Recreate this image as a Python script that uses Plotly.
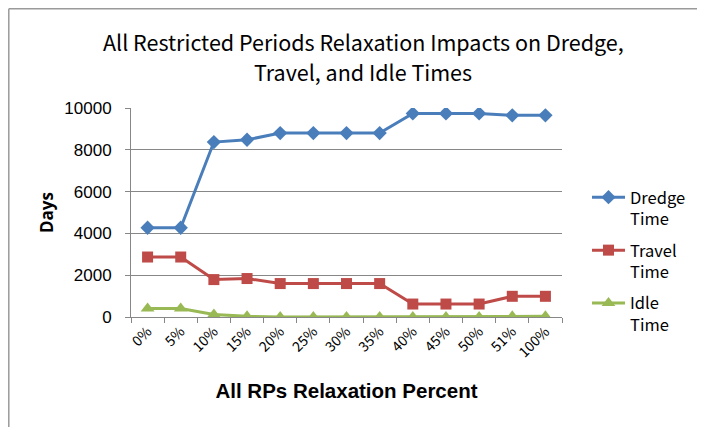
import plotly.graph_objects as go

categories = ["0%", "5%", "10%", "15%", "20%", "25%", "30%", "35%", "40%", "45%", "50%", "51%", "100%"]
dredge = [4270, 4270, 8370, 8480, 8800, 8800, 8800, 8800, 9740, 9740, 9740, 9650, 9650]
travel = [2870, 2870, 1790, 1840, 1600, 1600, 1600, 1600, 620, 620, 620, 990, 990]
idle = [410, 410, 120, 30, 0, 0, 0, 0, 0, 0, 0, 30, 30]
y_ticks = [0, 2000, 4000, 6000, 8000, 10000]
title_lines = ["All Restricted Periods Relaxation Impacts on Dredge,", "Travel, and Idle Times"]

series = [
    ("Dredge<br>Time", dredge, "#4A7EBB", "diamond", 11),
    ("Travel<br>Time", travel, "#BE4B48", "square", 11),
    ("Idle<br>Time", idle, "#98B954", "triangle-up", 12),
]

fig = go.Figure()
for i, (name, vals, color, sym, sz) in enumerate(series):
    fig.add_trace(go.Scatter(
        x=categories, y=vals, name=name, mode="lines+markers",
        legendgroup=f"g{i}",
        line=dict(color=color, width=3),
        marker=dict(symbol=sym, size=sz, color=color),
    ))

# page is rendered with an 8px body margin; plot area spans page x 131-562, y 108-317
PW, PH = 431, 209
def px(page_x):
    return (page_x - 131) / PW
def py(page_y):
    return (317 - page_y) / PH

grid = "#878787"
fig.update_layout(
    width=697, height=419,
    margin=dict(l=123, r=143, t=100, b=110),
    paper_bgcolor="white", plot_bgcolor="white",
    showlegend=True,
    legend=dict(
        x=px(592 - 5), xanchor="left", y=py(180), yanchor="top",
        font=dict(family="Noto Sans CJK JP", size=16.5, color="#000000"),
        valign="top", tracegroupgap=7, itemwidth=33,
    ),
    xaxis=dict(
        type="category", range=[-0.5, len(categories) - 0.5],
        tickangle=-45, tickson="boundaries",
        ticks="outside", ticklen=5, tickcolor=grid,
        showline=True, linecolor=grid, linewidth=1, showgrid=False,
        tickfont=dict(family="Noto Sans CJK JP", size=14, color="#000000"),
        title=dict(text="<b>All RPs Relaxation Percent</b>", standoff=23,
                   font=dict(family="Liberation Sans, Arial", size=20.5, color="#000000")),
    ),
    yaxis=dict(
        range=[0, 10000], tickvals=y_ticks, tickformat="d",
        ticks="outside", ticklen=5, tickcolor=grid, ticklabelstandoff=10,
        showline=True, linecolor=grid, linewidth=1,
        showgrid=True, gridcolor=grid, gridwidth=1, zeroline=False,
        tickfont=dict(family="Liberation Sans, Arial", size=17, color="#000000"),
        title=dict(text="<b>Days</b>", standoff=6,
                   font=dict(family="Open Sans, Liberation Sans", size=17, color="#000000")),
    ),
)

for txt, yy in zip(title_lines, [41, 71]):
    fig.add_annotation(text=txt, xref="paper", yref="paper", x=px(363), y=py(yy),
                       xanchor="center", yanchor="middle", showarrow=False,
                       font=dict(family="Noto Sans CJK JP", size=21.5, color="#000000"))

# chart-area border (top and left edges visible in the reference); kept just inside the figure
border = dict(color="#9a9a9a", width=1.5)
fig.add_shape(type="line", xref="paper", yref="paper",
              x0=px(8.8), x1=px(705), y0=py(8.8), y1=py(8.8), line=border)
fig.add_shape(type="line", xref="paper", yref="paper",
              x0=px(8.8), x1=px(8.8), y0=py(8.8), y1=py(427), line=border)

fig.write_html("out.html")
